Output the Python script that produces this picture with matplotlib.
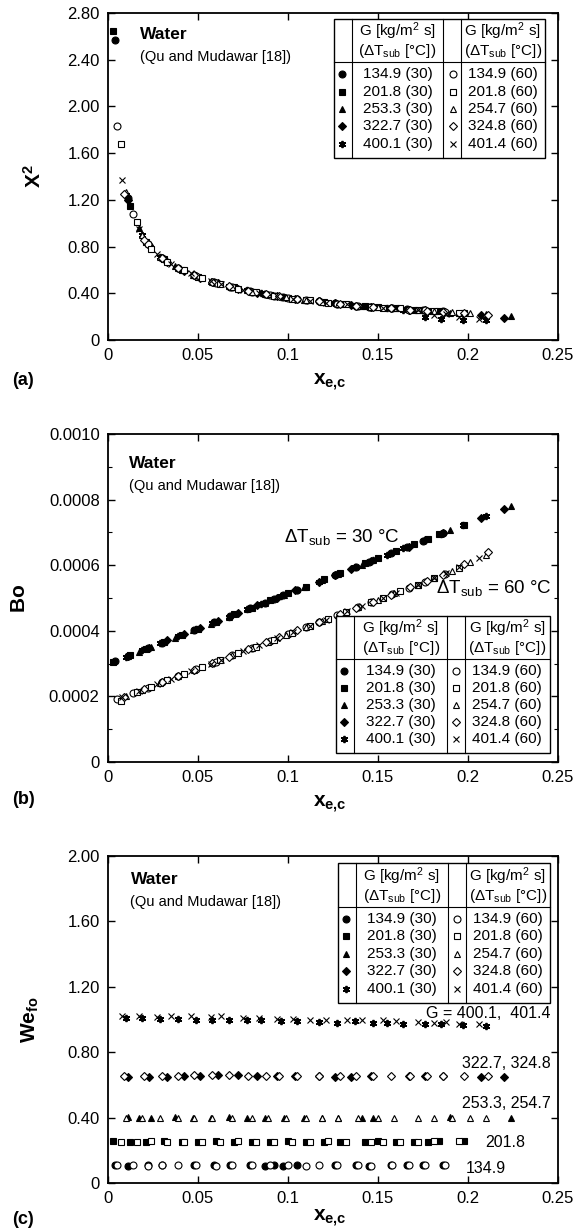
import matplotlib
matplotlib.use("Agg")
import matplotlib.pyplot as plt
from matplotlib.patches import Rectangle
from matplotlib.ticker import FixedLocator, MultipleLocator

plt.rcParams['font.family'] = ['Liberation Sans', 'DejaVu Sans']
plt.rcParams['mathtext.fontset'] = 'custom'
plt.rcParams['mathtext.rm'] = 'Liberation Sans'
plt.rcParams['mathtext.it'] = 'Liberation Sans:italic'
plt.rcParams['mathtext.bf'] = 'Liberation Sans:bold'

# ---- data: x_e,c and X^2, Bo, We_fo for each series ----
# 30 C subcooling (filled symbols)
x_f1 = [0.004, 0.011, 0.022, 0.030, 0.048, 0.059, 0.068, 0.079, 0.087, 0.092, 0.097, 0.105, 0.126, 0.138, 0.145, 0.157, 0.166, 0.175, 0.186]
xx_f1 = [2.57, 1.22, 0.82, 0.70, 0.555, 0.495, 0.455, 0.42, 0.395, 0.38, 0.37, 0.35, 0.315, 0.295, 0.285, 0.27, 0.265, 0.255, 0.245]
bo_f1 = [0.000309, 0.000324, 0.000347, 0.000364, 0.000403, 0.000426, 0.000446, 0.000469, 0.000486, 0.000497, 0.000508, 0.000525, 0.000570, 0.000595, 0.000610, 0.000636, 0.000655, 0.000675, 0.000698]
we_f1 = [0.11, 0.105, 0.11, 0.11, 0.11, 0.11, 0.11, 0.11, 0.105, 0.11, 0.105, 0.11, 0.11, 0.11, 0.105, 0.11, 0.11, 0.11, 0.11]

x_f2 = [0.003, 0.012, 0.021, 0.031, 0.041, 0.050, 0.060, 0.070, 0.080, 0.090, 0.100, 0.110, 0.120, 0.129, 0.143, 0.150, 0.160, 0.170, 0.178, 0.184, 0.198]
xx_f2 = [2.65, 1.15, 0.84, 0.69, 0.60, 0.54, 0.49, 0.45, 0.415, 0.385, 0.36, 0.34, 0.325, 0.31, 0.29, 0.28, 0.27, 0.26, 0.25, 0.245, 0.23]
bo_f2 = [0.000306, 0.000326, 0.000345, 0.000366, 0.000388, 0.000407, 0.000428, 0.000450, 0.000471, 0.000493, 0.000514, 0.000535, 0.000557, 0.000576, 0.000606, 0.000621, 0.000642, 0.000664, 0.000681, 0.000694, 0.000724]
we_f2 = [0.255, 0.25, 0.25, 0.255, 0.25, 0.25, 0.255, 0.25, 0.25, 0.25, 0.255, 0.25, 0.25, 0.25, 0.25, 0.255, 0.25, 0.25, 0.25, 0.255, 0.255]

x_f3 = [0.011, 0.017, 0.024, 0.037, 0.047, 0.057, 0.067, 0.077, 0.087, 0.098, 0.109, 0.119, 0.128, 0.141, 0.147, 0.190, 0.224]
xx_f3 = [1.22, 0.96, 0.79, 0.63, 0.56, 0.505, 0.46, 0.425, 0.395, 0.365, 0.34, 0.325, 0.31, 0.29, 0.28, 0.235, 0.205]
bo_f3 = [0.000324, 0.000336, 0.000351, 0.000379, 0.000401, 0.000422, 0.000443, 0.000465, 0.000486, 0.000510, 0.000533, 0.000555, 0.000574, 0.000602, 0.000615, 0.000707, 0.000780]
we_f3 = [0.405, 0.40, 0.40, 0.405, 0.40, 0.40, 0.405, 0.40, 0.40, 0.40, 0.40, 0.40, 0.40, 0.40, 0.40, 0.405, 0.40]

x_f4 = [0.011, 0.023, 0.033, 0.042, 0.051, 0.061, 0.072, 0.083, 0.094, 0.104, 0.117, 0.126, 0.135, 0.146, 0.167, 0.176, 0.186, 0.207, 0.220]
xx_f4 = [1.20, 0.81, 0.67, 0.595, 0.535, 0.485, 0.44, 0.405, 0.375, 0.355, 0.33, 0.315, 0.30, 0.285, 0.26, 0.255, 0.24, 0.215, 0.185]
bo_f4 = [0.000324, 0.000349, 0.000371, 0.000390, 0.000409, 0.000431, 0.000454, 0.000478, 0.000501, 0.000523, 0.000550, 0.000570, 0.000589, 0.000612, 0.000657, 0.000677, 0.000698, 0.000743, 0.000771]
we_f4 = [0.65, 0.65, 0.65, 0.655, 0.655, 0.66, 0.66, 0.655, 0.655, 0.655, 0.655, 0.65, 0.65, 0.655, 0.655, 0.655, 0.655, 0.65, 0.65]

x_f5 = [0.010, 0.019, 0.029, 0.039, 0.049, 0.058, 0.067, 0.077, 0.085, 0.096, 0.105, 0.117, 0.127, 0.137, 0.147, 0.155, 0.164, 0.176, 0.185, 0.197, 0.210]
xx_f5 = [1.24, 0.90, 0.71, 0.62, 0.545, 0.50, 0.46, 0.425, 0.40, 0.37, 0.35, 0.33, 0.31, 0.295, 0.28, 0.27, 0.26, 0.20, 0.18, 0.175, 0.17]
bo_f5 = [0.000321, 0.000341, 0.000362, 0.000383, 0.000405, 0.000424, 0.000443, 0.000465, 0.000482, 0.000505, 0.000525, 0.000550, 0.000572, 0.000593, 0.000615, 0.000632, 0.000651, 0.000677, 0.000696, 0.000722, 0.000749]
we_f5 = [1.01, 1.01, 1.005, 1.005, 1.00, 1.00, 0.995, 0.995, 0.995, 0.99, 0.99, 0.985, 0.98, 0.99, 0.98, 0.98, 0.975, 0.975, 0.97, 0.965, 0.96]

# 60 C subcooling (open symbols)
x_o1 = [0.005, 0.014, 0.022, 0.030, 0.039, 0.049, 0.060, 0.069, 0.080, 0.090, 0.100, 0.110, 0.117, 0.127, 0.139, 0.146, 0.158, 0.167, 0.176, 0.187]
xx_o1 = [1.83, 1.08, 0.82, 0.70, 0.62, 0.55, 0.49, 0.45, 0.415, 0.385, 0.36, 0.34, 0.33, 0.31, 0.295, 0.285, 0.27, 0.26, 0.255, 0.24]
bo_o1 = [0.000191, 0.000209, 0.000226, 0.000243, 0.000262, 0.000283, 0.000306, 0.000325, 0.000348, 0.000369, 0.000390, 0.000411, 0.000426, 0.000447, 0.000472, 0.000487, 0.000512, 0.000531, 0.000550, 0.000573]
we_o1 = [0.11, 0.11, 0.105, 0.11, 0.11, 0.11, 0.105, 0.11, 0.11, 0.11, 0.11, 0.105, 0.11, 0.11, 0.11, 0.105, 0.11, 0.11, 0.11, 0.11]

x_o2 = [0.007, 0.016, 0.024, 0.033, 0.042, 0.052, 0.062, 0.072, 0.082, 0.092, 0.102, 0.112, 0.122, 0.132, 0.146, 0.153, 0.162, 0.172, 0.181, 0.195]
xx_o2 = [1.68, 1.01, 0.78, 0.67, 0.60, 0.53, 0.48, 0.44, 0.41, 0.38, 0.355, 0.34, 0.32, 0.305, 0.285, 0.275, 0.27, 0.26, 0.25, 0.235]
bo_o2 = [0.000187, 0.000214, 0.000230, 0.000249, 0.000268, 0.000289, 0.000310, 0.000331, 0.000352, 0.000373, 0.000394, 0.000415, 0.000436, 0.000457, 0.000487, 0.000501, 0.000520, 0.000541, 0.000560, 0.000590]
we_o2 = [0.25, 0.25, 0.255, 0.25, 0.25, 0.25, 0.25, 0.255, 0.25, 0.25, 0.25, 0.25, 0.255, 0.25, 0.25, 0.25, 0.25, 0.25, 0.255, 0.255]

x_o3 = [0.010, 0.019, 0.029, 0.039, 0.048, 0.058, 0.069, 0.080, 0.089, 0.099, 0.110, 0.119, 0.128, 0.139, 0.150, 0.159, 0.172, 0.181, 0.191, 0.201, 0.210]
xx_o3 = [1.27, 0.90, 0.71, 0.62, 0.555, 0.50, 0.45, 0.415, 0.39, 0.365, 0.34, 0.325, 0.31, 0.295, 0.28, 0.27, 0.26, 0.25, 0.24, 0.23, 0.22]
bo_o3 = [0.000201, 0.000220, 0.000241, 0.000262, 0.000281, 0.000302, 0.000325, 0.000348, 0.000367, 0.000388, 0.000411, 0.000430, 0.000449, 0.000472, 0.000495, 0.000514, 0.000541, 0.000560, 0.000581, 0.000610, 0.000630]
we_o3 = [0.40, 0.40, 0.40, 0.40, 0.40, 0.40, 0.40, 0.40, 0.40, 0.40, 0.40, 0.40, 0.40, 0.40, 0.40, 0.40, 0.40, 0.40, 0.40, 0.40, 0.40]

x_o4 = [0.009, 0.020, 0.030, 0.039, 0.048, 0.058, 0.067, 0.078, 0.088, 0.095, 0.105, 0.117, 0.129, 0.138, 0.147, 0.157, 0.168, 0.177, 0.186, 0.198, 0.211]
xx_o4 = [1.25, 0.86, 0.70, 0.62, 0.555, 0.50, 0.46, 0.42, 0.39, 0.375, 0.35, 0.33, 0.31, 0.295, 0.28, 0.27, 0.26, 0.25, 0.24, 0.23, 0.215]
bo_o4 = [0.000199, 0.000222, 0.000243, 0.000262, 0.000281, 0.000302, 0.000321, 0.000344, 0.000365, 0.000380, 0.000401, 0.000426, 0.000451, 0.000470, 0.000489, 0.000510, 0.000533, 0.000552, 0.000571, 0.000605, 0.000640]
we_o4 = [0.655, 0.655, 0.655, 0.655, 0.66, 0.66, 0.66, 0.655, 0.655, 0.655, 0.655, 0.655, 0.655, 0.655, 0.655, 0.655, 0.655, 0.655, 0.655, 0.655, 0.655]

x_o5 = [0.008, 0.017, 0.027, 0.035, 0.046, 0.057, 0.063, 0.075, 0.084, 0.094, 0.103, 0.112, 0.121, 0.133, 0.141, 0.153, 0.160, 0.172, 0.181, 0.188, 0.195, 0.206]
xx_o5 = [1.37, 0.95, 0.74, 0.65, 0.57, 0.505, 0.48, 0.43, 0.40, 0.375, 0.355, 0.335, 0.32, 0.305, 0.29, 0.275, 0.27, 0.255, 0.215, 0.225, 0.20, 0.18]
bo_o5 = [0.000197, 0.000216, 0.000237, 0.000254, 0.000277, 0.000300, 0.000312, 0.000338, 0.000356, 0.000377, 0.000396, 0.000415, 0.000434, 0.000459, 0.000476, 0.000501, 0.000516, 0.000541, 0.000560, 0.000575, 0.000595, 0.000622]
we_o5 = [1.02, 1.02, 1.015, 1.02, 1.02, 1.015, 1.02, 1.01, 1.01, 1.005, 1.005, 1.00, 1.00, 1.00, 1.00, 0.995, 0.99, 0.985, 0.98, 0.985, 0.975, 0.97]

g_30 = ['134.9', '201.8', '253.3', '322.7', '400.1']
g_60 = ['134.9', '201.8', '254.7', '324.8', '401.4']

xticks = [0, 0.05, 0.1, 0.15, 0.2, 0.25]
xtick_labels = ['0', '0.05', '0.1', '0.15', '0.2', '0.25']
yticks_a = [0, 0.4, 0.8, 1.2, 1.6, 2.0, 2.4, 2.8]
ytick_labels_a = ['0', '0.40', '0.80', '1.20', '1.60', '2.00', '2.40', '2.80']
yticks_b = [0, 0.0002, 0.0004, 0.0006, 0.0008, 0.0010]
ytick_labels_b = ['0', '0.0002', '0.0004', '0.0006', '0.0008', '0.0010']
yticks_c = [0, 0.4, 0.8, 1.2, 1.6, 2.0]
ytick_labels_c = ['0', '0.40', '0.80', '1.20', '1.60', '2.00']

# marker styles (filled 30 C, open 60 C)
sty_f = [dict(marker='o', mfc='k'), dict(marker='s', mfc='k'), dict(marker='^', mfc='k'),
         dict(marker='D', mfc='k', ms=4.2), dict(marker=(6, 2, 0), mfc='k', ms=5.2, mew=1.3)]
sty_o = [dict(marker='o', mfc='white'), dict(marker='s', mfc='white'), dict(marker='^', mfc='white'),
         dict(marker='D', mfc='white', ms=4.2), dict(marker='x', mfc='white', ms=4.6)]

filled = [(x_f1, xx_f1, bo_f1, we_f1), (x_f2, xx_f2, bo_f2, we_f2), (x_f3, xx_f3, bo_f3, we_f3),
          (x_f4, xx_f4, bo_f4, we_f4), (x_f5, xx_f5, bo_f5, we_f5)]
opened = [(x_o1, xx_o1, bo_o1, we_o1), (x_o2, xx_o2, bo_o2, we_o2), (x_o3, xx_o3, bo_o3, we_o3),
          (x_o4, xx_o4, bo_o4, we_o4), (x_o5, xx_o5, bo_o5, we_o5)]


def mk(style, ms=5.0, mew=0.8):
    d = dict(linestyle='none', mec='k', ms=ms, mew=mew, color='k')
    d.update(style)
    return d


def draw_key(ax, x0, x1, y0, y1):
    T = ax.transAxes
    w = x1 - x0
    h = y1 - y0
    ax.add_patch(Rectangle((x0, y0), w, h, transform=T, fc='white', ec='k', lw=1.0, zorder=5))
    for f in [0.085, 0.518, 0.603]:
        ax.plot([x0 + f * w] * 2, [y0, y1], transform=T, color='k', lw=0.8, zorder=6)
    ysep = y1 - 0.312 * h
    ax.plot([x0, x1], [ysep, ysep], transform=T, color='k', lw=0.8, zorder=6)
    for cx in [0.302, 0.80]:
        ax.text(x0 + cx * w, y1 - 0.09 * h, r'G [kg/m$^2$ s]', transform=T,
                ha='center', va='center', fontsize=11, zorder=7)
        ax.text(x0 + cx * w, y1 - 0.235 * h, r'(ΔT$_{\mathrm{sub}}$ [°C])', transform=T,
                ha='center', va='center', fontsize=11, zorder=7)
    rows = [0.40, 0.525, 0.65, 0.775, 0.90]
    for i in range(5):
        yy = y1 - rows[i] * h
        ax.plot([x0 + 0.038 * w], [yy], transform=T, zorder=7, **mk(sty_f[i]))
        ax.plot([x0 + 0.563 * w], [yy], transform=T, zorder=7, **mk(sty_o[i]))
        ax.text(x0 + 0.302 * w, yy, g_30[i] + ' (30)', transform=T, ha='center',
                va='center', fontsize=11, zorder=7)
        ax.text(x0 + 0.80 * w, yy, g_60[i] + ' (60)', transform=T, ha='center',
                va='center', fontsize=11, zorder=7)


def style_axes(ax, yticks, ylabels, ylim, xlab_y):
    ax.set_xlim(0, 0.25)
    ax.set_ylim(*ylim)
    ax.xaxis.set_major_locator(FixedLocator(xticks))
    ax.set_xticklabels(xtick_labels)
    ax.yaxis.set_major_locator(FixedLocator(yticks))
    ax.set_yticklabels(ylabels)
    ax.tick_params(which='major', direction='in', top=True, right=True, length=5, width=1,
                   labelsize=12, pad=6)
    ax.tick_params(which='minor', direction='in', top=True, right=True, length=3, width=0.8)
    for s in ax.spines.values():
        s.set_linewidth(1.3)
    ax.set_xlabel(r'$\mathbf{x_{e{,}c}}$', fontsize=15)
    ax.xaxis.set_label_coords(0.494, xlab_y)


def source_text(ax, tx, ty1, ty2):
    ax.text(tx, ty1, 'Water', transform=ax.transAxes, fontsize=12.5, fontweight='bold',
            ha='left', va='center')
    ax.text(tx, ty2, '(Qu and Mudawar [18])', transform=ax.transAxes, fontsize=10.5,
            ha='left', va='center')


fig = plt.figure(figsize=(5.87, 12.32), dpi=100)
L, W = 108 / 587, 450 / 587
ax_a = fig.add_axes([L, 1 - 340 / 1232, W, 327 / 1232])
ax_b = fig.add_axes([L, 1 - 762 / 1232, W, 328 / 1232])
ax_c = fig.add_axes([L, 1 - 1183 / 1232, W, 327 / 1232])

# (a) X^2
for (xs, xx, bo, we), st in zip(filled, sty_f):
    ax_a.plot(xs, xx, zorder=3, **mk(st))
for (xs, xx, bo, we), st in zip(opened, sty_o):
    ax_a.plot(xs, xx, zorder=4, **mk(st))
style_axes(ax_a, yticks_a, ytick_labels_a, (0, 2.8), -0.098)
ax_a.set_ylabel(r'$\mathbf{X^2}$', fontsize=15)
ax_a.yaxis.set_label_coords(-0.14, 0.5)
source_text(ax_a, 0.071, 0.935, 0.865)
draw_key(ax_a, 0.502, 0.971, 0.558, 0.982)

# (b) Bo
for (xs, xx, bo, we), st in zip(filled, sty_f):
    ax_b.plot(xs, bo, zorder=3, **mk(st))
for (xs, xx, bo, we), st in zip(opened, sty_o):
    ax_b.plot(xs, bo, zorder=4, **mk(st))
style_axes(ax_b, yticks_b, ytick_labels_b, (0, 0.001), -0.098)
ax_b.yaxis.set_minor_locator(MultipleLocator(0.0001))
ax_b.set_ylabel(r'$\mathbf{Bo}$', fontsize=15)
ax_b.yaxis.set_label_coords(-0.175, 0.5)
source_text(ax_b, 0.047, 0.91, 0.84)
ax_b.text(0.0975, 0.000687, r'ΔT$_{\mathrm{sub}}$ = 30 °C', fontsize=13.5, ha='left', va='center')
ax_b.text(0.182, 0.000529, r'ΔT$_{\mathrm{sub}}$ = 60 °C', fontsize=13.5, ha='left', va='center')
draw_key(ax_b, 0.507, 0.982, 0.027, 0.445)

# (c) We_fo
for (xs, xx, bo, we), st in zip(filled, sty_f):
    ax_c.plot(xs, we, zorder=3, **mk(st))
for (xs, xx, bo, we), st in zip(opened, sty_o):
    ax_c.plot(xs, we, zorder=4, **mk(st))
style_axes(ax_c, yticks_c, ytick_labels_c, (0, 2.0), -0.075)
ax_c.set_ylabel(r'$\mathbf{We_{fo}}$', fontsize=15)
ax_c.yaxis.set_label_coords(-0.148, 0.5)
source_text(ax_c, 0.05, 0.927, 0.86)
draw_key(ax_c, 0.51, 0.983, 0.551, 0.978)
ax_c.text(0.246, 0.99, 'G = 400.1,  401.4', fontsize=11.5, ha='right', va='bottom', zorder=6)
ax_c.text(0.246, 0.685, '322.7, 324.8', fontsize=11.5, ha='right', va='bottom')
ax_c.text(0.246, 0.44, '253.3, 254.7', fontsize=11.5, ha='right', va='bottom')
ax_c.text(0.2095, 0.25, '201.8', fontsize=11.5, ha='left', va='center')
ax_c.text(0.199, 0.09, '134.9', fontsize=11.5, ha='left', va='center')

for lab, yc in [('(a)', 380), ('(b)', 800), ('(c)', 1219)]:
    fig.text(12 / 587, 1 - yc / 1232, lab, fontsize=13, fontweight='bold', ha='left', va='center')

fig.savefig('out.png', dpi=100)
